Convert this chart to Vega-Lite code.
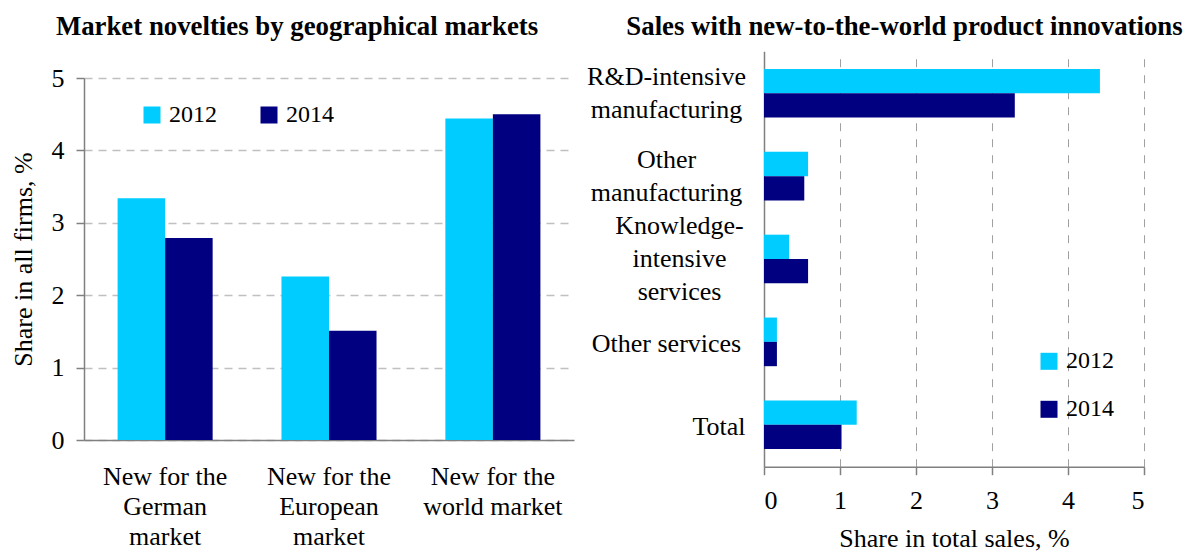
{
  "$schema": "https://vega.github.io/schema/vega-lite/v6.json",
  "autosize": {"type": "pad"},
  "padding": {"left": 10, "top": 13, "right": 0, "bottom": 0},
  "background": "white",
  "bounds": "flush",
  "center": true,
  "spacing": 190,
  "config": {
    "view": {"stroke": null},
    "font": "Liberation Serif",
    "title": {"font": "Liberation Serif", "fontSize": 26.8, "fontWeight": "bold", "color": "black", "anchor": "middle", "frame": "group", "baseline": "alphabetic"},
    "axis": {"labelFont": "Liberation Serif", "titleFont": "Liberation Serif", "labelFontSize": 26, "titleFontSize": 26, "labelColor": "black", "titleColor": "black", "titleFontWeight": "normal", "domainColor": "#808080", "tickColor": "#808080", "domainWidth": 1.5, "tickWidth": 1.5},
    "legend": {"labelFont": "Liberation Serif", "labelFontSize": 24, "labelColor": "black", "symbolType": "square", "symbolSize": 289, "symbolStrokeWidth": 0, "symbolOpacity": 1, "labelOffset": 5}
  },
  "resolve": {"legend": {"color": "independent"}},
  "hconcat": [
    {
      "width": 490,
      "height": 362,
      "title": {"text": "Market novelties by geographical markets", "dx": -32, "offset": 24.7},
      "data": {"values": [
        {"market": "New for the|German|market", "year": "2012", "value": 3.34},
        {"market": "New for the|German|market", "year": "2014", "value": 2.79},
        {"market": "New for the|European|market", "year": "2012", "value": 2.26},
        {"market": "New for the|European|market", "year": "2014", "value": 1.51},
        {"market": "New for the|world market", "year": "2012", "value": 4.44},
        {"market": "New for the|world market", "year": "2014", "value": 4.50}
      ]},
      "mark": {"type": "bar"},
      "encoding": {
        "x": {"field": "market", "type": "nominal", "sort": null,
          "scale": {"paddingInner": 0.42, "paddingOuter": 0.205},
          "axis": {"title": null, "labelAngle": 0, "ticks": false, "labelPadding": 23, "labelBaseline": "top", "labelLineHeight": 30, "labelExpr": "split(datum.label, '|')", "labelLimit": 0}},
        "xOffset": {"field": "year", "type": "nominal"},
        "y": {"field": "value", "type": "quantitative",
          "scale": {"domain": [0, 5], "nice": false},
          "axis": {"title": "Share in all firms, %", "values": [0, 1, 2, 3, 4, 5], "tickSize": 8, "labelPadding": 12, "grid": true, "gridDash": [8, 6], "gridColor": "#C0C0C0", "gridWidth": 1.5, "titlePadding": 15}},
        "color": {"field": "year", "type": "nominal",
          "scale": {"domain": ["2012", "2014"], "range": ["#00CCFF", "#000080"]},
          "legend": {"orient": "none", "legendX": 56, "legendY": 25, "direction": "horizontal", "title": null, "columnPadding": 40}}
      }
    },
    {
      "width": 380,
      "height": 415.4,
      "title": {"text": "Sales with new-to-the-world product innovations", "dx": -49.5, "offset": 10.5},
      "data": {"values": [
        {"sector": "R&D-intensive|manufacturing", "year": "2012", "value": 4.42},
        {"sector": "R&D-intensive|manufacturing", "year": "2014", "value": 3.3},
        {"sector": "Other|manufacturing", "year": "2012", "value": 0.58},
        {"sector": "Other|manufacturing", "year": "2014", "value": 0.53},
        {"sector": "Knowledge-|intensive|services", "year": "2012", "value": 0.33},
        {"sector": "Knowledge-|intensive|services", "year": "2014", "value": 0.58},
        {"sector": "Other services", "year": "2012", "value": 0.17},
        {"sector": "Other services", "year": "2014", "value": 0.17},
        {"sector": "Total", "year": "2012", "value": 1.22},
        {"sector": "Total", "year": "2014", "value": 1.02}
      ]},
      "mark": {"type": "bar"},
      "encoding": {
        "y": {"field": "sector", "type": "nominal", "sort": null,
          "scale": {"paddingInner": 0.413, "paddingOuter": 0.213},
          "axis": {"title": null, "ticks": false, "labelBaseline": "middle", "labelLineHeight": 33, "labelExpr": "split(datum.label, '|')", "labelLimit": 0,
            "labelAlign": {"condition": {"test": "datum.value === 'Total'", "value": "right"}, "value": "center"},
            "labelPadding": {"condition": [{"test": "datum.value === 'Total'", "value": 19}, {"test": "datum.value === 'Knowledge-|intensive|services'", "value": 85}], "value": 98},
            "labelOffset": {"condition": [{"test": "datum.value === 'Knowledge-|intensive|services'", "value": -33}, {"test": "indexof(datum.value, '|') >= 0", "value": -16.5}], "value": 2}}},
        "yOffset": {"field": "year", "type": "nominal"},
        "x": {"field": "value", "type": "quantitative",
          "scale": {"domain": [0, 5], "nice": false},
          "axis": {"title": "Share in total sales, %", "values": [0, 1, 2, 3, 4, 5], "tickSize": 8, "labelPadding": 13, "labelBaseline": "top", "grid": true, "gridDash": [8, 8], "gridColor": "#A0A0A0", "gridWidth": 1, "titlePadding": 12}},
        "color": {"field": "year", "type": "nominal",
          "scale": {"domain": ["2012", "2014"], "range": ["#00CCFF", "#000080"]},
          "legend": {"orient": "none", "legendX": 273, "legendY": 298, "direction": "vertical", "title": null, "rowPadding": 24}}
      }
    }
  ]
}
